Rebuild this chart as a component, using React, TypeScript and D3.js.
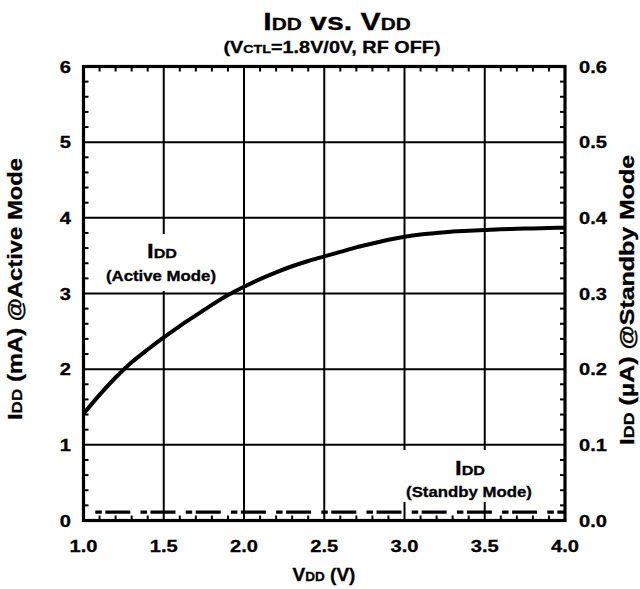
import React from "react";
import * as d3 from "d3";

const vdd = [1.0, 1.1, 1.2, 1.3, 1.4, 1.5, 1.6, 1.7, 1.8, 1.9, 2.0, 2.1, 2.2, 2.3, 2.4, 2.5, 2.6, 2.7, 2.8, 2.9, 3.0, 3.1, 3.2, 3.3, 3.4, 3.5, 3.6, 3.7, 3.8, 3.9, 4.0];
const iddActive = [1.41, 1.66, 1.89, 2.09, 2.26, 2.42, 2.57, 2.71, 2.85, 2.98, 3.09, 3.19, 3.28, 3.36, 3.43, 3.49, 3.55, 3.61, 3.66, 3.71, 3.75, 3.78, 3.80, 3.82, 3.83, 3.84, 3.85, 3.855, 3.86, 3.865, 3.87];
const standbyV = [1.0, 4.0];
const iddStandby = [0.011, 0.011];

const xTicks = [1.0, 1.5, 2.0, 2.5, 3.0, 3.5, 4.0];
const leftTicks = [0, 1, 2, 3, 4, 5, 6];
const rightTicks = [0.0, 0.1, 0.2, 0.3, 0.4, 0.5, 0.6];

const W = 640;
const H = 589;
const FONT = "'Liberation Sans', Arial, Helvetica, sans-serif";

type TProps = {
  x: number;
  y: number;
  sx?: number;
  rot?: number;
  anchor?: "start" | "middle" | "end";
  size: number;
  children: React.ReactNode;
};

function T({ x, y, sx = 1.22, rot = 0, anchor = "middle", size, children }: TProps) {
  return (
    <text
      transform={`translate(${x},${y}) rotate(${rot}) scale(${sx},1)`}
      textAnchor={anchor}
      fontSize={size}
      stroke="#000"
      strokeWidth={0.3}
    >
      {children}
    </text>
  );
}

export default function App() {
  const x = d3.scaleLinear().domain([1, 4]).range([83.5, 565]);
  const yL = d3.scaleLinear().domain([0, 6]).range([520.5, 66.5]);
  const yR = d3.scaleLinear().domain([0, 0.6]).range([520.5, 66.5]);

  const line = d3
    .line<number>()
    .x((_, i) => x(vdd[i]))
    .y((d) => yL(d))
    .curve(d3.curveMonotoneX);
  const sLine = d3
    .line<number>()
    .x((_, i) => x(standbyV[i]))
    .y((d) => yR(d));

  const minorX = d3.range(10, 41).map((v) => v / 10).filter((v) => Math.abs(v * 2 - Math.round(v * 2)) > 1e-6);
  const minorY = d3.range(0, 31).map((v) => v / 5).filter((v) => Math.abs(v - Math.round(v)) > 1e-6);

  const [x0, x1] = x.range();
  const [yb, yt] = yL.range();
  const tl = 5;

  return (
    <svg width={W} height={H} style={{ position: "absolute", left: 0, top: 0, background: "#fff" }} fontFamily={FONT} fontWeight="bold">
      <rect x={0} y={0} width={W} height={H} fill="#fff" />
      {/* title */}
      <T x={337} y={30} size={24} sx={1.26}>
        I<tspan fontSize={16.5}>DD</tspan> vs. V<tspan fontSize={16.5}>DD</tspan>
      </T>
      <T x={332} y={53} size={16} sx={1.24}>
        (V<tspan fontSize={11.5}>CTL</tspan>=1.8V/0V, RF OFF)
      </T>

      {/* grid */}
      {xTicks.slice(1, -1).map((t) => (
        <line key={"gx" + t} x1={x(t)} x2={x(t)} y1={yt} y2={yb} stroke="#000" strokeWidth={2} />
      ))}
      {leftTicks.slice(1, -1).map((t) => (
        <line key={"gy" + t} x1={x0} x2={x1} y1={yL(t)} y2={yL(t)} stroke="#000" strokeWidth={2} />
      ))}

      {/* label boxes */}
      <rect x={100} y={234} width={125} height={57} fill="#fff" />
      <T x={162} y={258} size={20} sx={1.2}>
        I<tspan fontSize={13.5}>DD</tspan>
      </T>
      <T x={161} y={281} size={14} sx={1.2}>(Active Mode)</T>

      <rect x={400} y={450} width={140} height={52} fill="#fff" />
      <T x={470} y={475} size={20} sx={1.2}>
        I<tspan fontSize={13.5}>DD</tspan>
      </T>
      <T x={469} y={497} size={14} sx={1.2}>(Standby Mode)</T>

      {/* series */}
      <path d={line(iddActive) || ""} fill="none" stroke="#000" strokeWidth={4} strokeLinejoin="round" />
      <path d={sLine(iddStandby) || ""} fill="none" stroke="#000" strokeWidth={3.2} strokeDasharray="6.5,3.5,25,10.2" strokeDashoffset={33.4} />

      {/* minor ticks */}
      {minorX.map((t) => (
        <g key={"mx" + t}>
          <line x1={x(t)} x2={x(t)} y1={yb} y2={yb - tl} stroke="#000" strokeWidth={2} />
          <line x1={x(t)} x2={x(t)} y1={yt} y2={yt + tl} stroke="#000" strokeWidth={2} />
        </g>
      ))}
      {minorY.map((t) => (
        <g key={"my" + t}>
          <line x1={x0} x2={x0 + tl} y1={yL(t)} y2={yL(t)} stroke="#000" strokeWidth={2} />
          <line x1={x1} x2={x1 - tl} y1={yL(t)} y2={yL(t)} stroke="#000" strokeWidth={2} />
        </g>
      ))}

      {/* frame */}
      <rect x={x0} y={yt} width={x1 - x0} height={yb - yt} fill="none" stroke="#000" strokeWidth={3.2} />

      {/* tick labels */}
      {xTicks.map((t) => (
        <T key={"xl" + t} x={x(t)} y={552} size={16.5}>
          {t.toFixed(1)}
        </T>
      ))}
      {leftTicks.map((t) => (
        <T key={"ll" + t} x={71} y={yL(t) + 6} anchor="end" size={16.5}>
          {String(t)}
        </T>
      ))}
      {rightTicks.map((t) => (
        <T key={"rl" + t} x={579} y={yR(t) + 6} anchor="start" size={16.5}>
          {t.toFixed(1)}
        </T>
      ))}

      {/* axis titles */}
      <T x={324} y={581} size={19} sx={1.0}>
        V<tspan fontSize={13.5}>DD</tspan> (V)
      </T>
      <T x={22} y={289} rot={-90} size={19.5} sx={1.22}>
        I<tspan fontSize={14}>DD</tspan> (mA) @Active Mode
      </T>
      <T x={634} y={300} rot={-90} size={19.5} sx={1.28}>
        I<tspan fontSize={14}>DD</tspan> (µA) @Standby Mode
      </T>
    </svg>
  );
}
